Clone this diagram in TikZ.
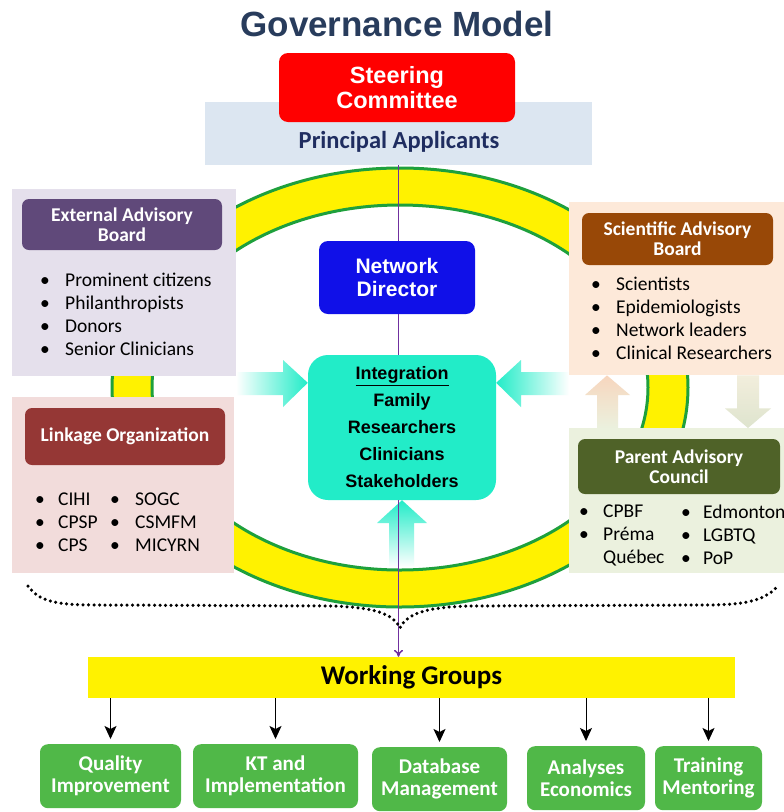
\documentclass[tikz,border=0pt]{standalone}
\usepackage{fontspec}
\setmainfont{Carlito}
\newfontfamily\arialfont{Liberation Sans}
\usetikzlibrary{shapes.geometric, arrows.meta, positioning, calc}

\definecolor{titleblue}{RGB}{40,60,92}
\definecolor{bandblue}{RGB}{220,230,241}
\definecolor{navy}{RGB}{31,45,96}
\definecolor{ringgreen}{RGB}{30,160,60}
\definecolor{ndblue}{RGB}{16,16,232}
\definecolor{turq}{RGB}{34,236,200}
\definecolor{lineviolet}{RGB}{112,48,160}
\definecolor{extpanel}{RGB}{229,224,236}
\definecolor{exthead}{RGB}{96,73,122}
\definecolor{linkpanel}{RGB}{242,220,219}
\definecolor{linkhead}{RGB}{149,55,53}
\definecolor{scipanel}{RGB}{253,233,217}
\definecolor{scihead}{RGB}{152,72,7}
\definecolor{parpanel}{RGB}{235,241,222}
\definecolor{parhead}{RGB}{79,98,40}
\definecolor{wggreen}{RGB}{80,184,72}
\definecolor{uppeach}{RGB}{247,214,190}
\definecolor{downsage}{RGB}{222,228,206}

\tikzstyle{titletext} = [font=\arialfont\bfseries\fontsize{35}{40}\selectfont, text=titleblue]
\tikzstyle{steer} = [rectangle, rounded corners=9pt, minimum width=236pt, minimum height=69pt, fill=red, text=white, align=center, font=\arialfont\bfseries\fontsize{23.5}{25}\selectfont]
\tikzstyle{band} = [rectangle, fill=bandblue, minimum width=387pt, minimum height=63pt]
\tikzstyle{bandtext} = [font=\bfseries\fontsize{24.5}{28}\selectfont, text=navy]
\tikzstyle{ndbox} = [rectangle, rounded corners=9pt, minimum width=156pt, minimum height=73pt, fill=ndblue, text=white, align=center, font=\arialfont\bfseries\fontsize{21}{23}\selectfont]
\tikzstyle{integ} = [rectangle, rounded corners=20pt, minimum width=188pt, minimum height=145pt, fill=turq, align=center, font=\arialfont\bfseries\fontsize{18}{27}\selectfont]
\tikzstyle{panel} = [rectangle, anchor=north west, inner sep=0pt]
\tikzstyle{head} = [rectangle, rounded corners=7pt, text=white, align=center, font=\bfseries\fontsize{19.5}{20}\selectfont]
\tikzstyle{items} = [anchor=north west, inner sep=0pt, align=left, font=\fontsize{19.5}{23}\selectfont]
\tikzstyle{wgbox} = [rectangle, fill=yellow, minimum width=647pt, minimum height=41pt, font=\bfseries\fontsize{27}{30}\selectfont]
\tikzstyle{wgitem} = [rectangle, rounded corners=8pt, anchor=north, minimum height=64pt, fill=wggreen, text=white, align=center, font=\bfseries\fontsize{21}{22}\selectfont]
\tikzstyle{arrow} = [-{Stealth[length=13pt,width=12pt,inset=3pt]}, line width=1pt, shorten >=5pt]
\tikzstyle{vline} = [lineviolet, line width=1.5pt]

\newcommand{\bitem}[2][25pt]{\makebox[#1][l]{\textbullet}#2}

\begin{document}
\begin{tikzpicture}[x=1pt, y=-1pt]
    \clip (0,0) rectangle (784,812);
    \fill[white] (0,0) rectangle (784,812);

    \node (title) [titletext] at (397,24) {Governance Model};

    % ring
    \coordinate (ringc) at (400,387.5);
    \fill[yellow, even odd rule] (ringc) ellipse [x radius=288pt, y radius=219.5pt]
        (ringc) ellipse [x radius=248pt, y radius=182.5pt];
    \draw[ringgreen, line width=3pt] (ringc) ellipse [x radius=288pt, y radius=219.5pt];
    \draw[ringgreen, line width=3pt] (ringc) ellipse [x radius=248pt, y radius=182.5pt];

    \node (pa) [band] at (398.5,133.5) {};
    \node (patext) [bandtext] at (399,142) {Principal Applicants};
    \node (sc) [steer] at (397,87.5) {Steering\\Committee};

    \node (nd) [ndbox] at (397,277.5) {Network\\Director};
    \node (integ) [integ] at (402,427.5) {\underline{Integration}\\Family\\Researchers\\Clinicians\\Stakeholders};
    \node (wg) [wgbox] at (411.5,677.5) {Working Groups};

    % block arrows into integration
    \shade[left color=white, right color=turq] (236,372) -- (283,372) -- (283,360)
        -- ($(integ.north west)+(0,28)$) -- (283,407) -- (283,395) -- (236,395) -- cycle;
    \shade[left color=turq, right color=white] (569,372) -- (521,372) -- (521,360)
        -- ($(integ.north east)+(0,28)$) -- (521,407) -- (521,395) -- (569,395) -- cycle;
    \shade[top color=turq, bottom color=white] (389,567) -- (389,523) -- (377,523)
        -- (integ.south) -- (427,523) -- (414,523) -- (414,567) -- cycle;

    % violet line
    \draw[vline] (pa.south) -- (pa.south |- nd.north);
    \draw[vline] (pa.south |- nd.south) -- (pa.south |- integ.north);
    \draw[vline, -{To[length=7pt,width=9pt]}] (pa.south |- integ.south) -- (pa.south |- wg.north);

    % left panels
    \node (eab) [panel, fill=extpanel, minimum width=224pt, minimum height=187pt] at (12,189) {};
    \node (eabh) [head, fill=exthead, minimum width=200pt, minimum height=51pt] at (122,224.5) {External Advisory\\Board};
    \node (eabl) [items] at (40,273) {\bitem{Prominent citizens}\\\bitem{Philanthropists}\\\bitem{Donors}\\\bitem{Senior Clinicians}};

    \node (lo) [panel, fill=linkpanel, minimum width=222pt, minimum height=176pt] at (12,397) {};
    \node (loh) [head, fill=linkhead, minimum width=200pt, minimum height=57pt] at (125,436.5) {Linkage Organization};
    \node (lol) [items] at (35,493) {\bitem[23pt]{CIHI}\\\bitem[23pt]{CPSP}\\\bitem[23pt]{CPS}};
    \node (lor) [items] at (110,493) {\bitem{SOGC}\\\bitem{CSMFM}\\\bitem{MICYRN}};

    % right panels
    \node (sab) [panel, fill=scipanel, minimum width=215pt, minimum height=173pt] at (569,202) {};
    \node (sabh) [head, fill=scihead, minimum width=191pt, minimum height=52pt] at (677.5,239) {Scientific Advisory\\Board};
    \node (sabl) [items] at (591,277) {\bitem{Scientists}\\\bitem{Epidemiologists}\\\bitem{Network leaders}\\\bitem{Clinical Researchers}};

    \node (pac) [panel, fill=parpanel, minimum width=215pt, minimum height=145pt] at (569,428) {};
    \node (pach) [head, fill=parhead, minimum width=202pt, minimum height=55pt] at (679,466.5) {Parent Advisory\\Council};
    \node (pacl) [items] at (579,505) {\bitem[24pt]{CPBF}\\\bitem[24pt]{Préma}\\\makebox[24pt]{}Québec};
    \node (pacr) [items] at (681,505) {\bitem[22pt]{Edmonton}\\\bitem[22pt]{LGBTQ}\\\bitem[22pt]{PoP}};

    % arrows between scientific and parent
    \shade[top color=uppeach, bottom color=parpanel] ($(pac.north west)+(28,0)$) -- ++(0,-33) -- ++(-12,0)
        -- ($(sab.south west)+(38,0)$) -- ($(pac.north west)+(61,-33)$) -- ++(-12,0) -- ($(pac.north west)+(49,0)$) -- cycle;
    \shade[top color=scipanel!40!parpanel, bottom color=downsage] ($(sab.south west)+(168,0)$) -- ++(0,33) -- ++(-12,0)
        -- ($(pac.north west)+(179,0)$) -- ($(sab.south west)+(202,33)$) -- ++(-12,0) -- ($(sab.south west)+(190,0)$) -- cycle;

    % dotted brace
    \draw[line width=3.5pt, line cap=round, dash pattern=on 0pt off 5.5pt]
        (28,586) .. controls (40,603) and (60,605) .. (100,605) -- (330,606)
        .. controls (372,607) and (393,613) .. (400,628)
        .. controls (407,613) and (428,607) .. (470,606) -- (700,605)
        .. controls (740,605) and (762,603) .. (778,586);

    % working groups
    \node (qi) [wgitem, minimum width=141pt] at (110.5,744) {Quality\\Improvement};
    \node (kt) [wgitem, minimum width=165pt] at (275.5,744) {KT and\\Implementation};
    \node (db) [wgitem, minimum width=135pt] at (439.5,747) {Database\\Management};
    \node (an) [wgitem, minimum width=118pt] at (586,746) {Analyses\\Economics};
    \node (tm) [wgitem, minimum width=107pt] at (708.5,746) {Training\\Mentoring};
    \foreach \b in {qi,kt,db,an,tm}
        \draw[arrow] (wg.south -| \b.north) -- (\b.north);
\end{tikzpicture}
\end{document}
